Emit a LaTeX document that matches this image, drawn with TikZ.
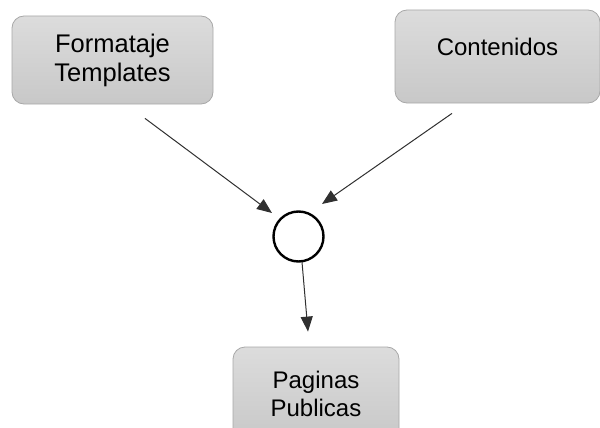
\documentclass[tikz,border=0pt]{standalone}
\usepackage{fontspec}
\setmainfont{Liberation Sans}
\usetikzlibrary{arrows.meta,calc}
\definecolor{boxtop}{HTML}{DCDCDC}
\definecolor{boxbot}{HTML}{C8C8C8}
\definecolor{boxline}{HTML}{A8A8A8}
\definecolor{arrline}{HTML}{303030}
\begin{document}
\begin{tikzpicture}[x=1pt,y=-1pt,
  box/.style={draw=boxline, line width=0.8pt, rounded corners=12pt,
    top color=boxtop, bottom color=boxbot, align=center,
    font=\fontsize{24}{28}\selectfont, inner sep=0pt},
  junction/.style={circle, draw=black, line width=2.4pt, fill=white,
    minimum size=50pt, inner sep=0pt},
  arr/.style={draw=arrline, line width=1pt,
    -{Triangle[length=15pt,width=12pt]}}]
\useasboundingbox (0,0) rectangle (600,428);
\node[box, minimum width=201pt, minimum height=88pt] (f) at (112.5,60)
  {\raisebox{-2pt}{\parbox{190pt}{\centering\fontsize{25.5}{29}\selectfont Formataje\\Templates}}};
\node[box, minimum width=205pt, minimum height=93pt, text depth=20pt] (k) at (497.5,56.5) {Contenidos};
\node[box, minimum width=166pt, minimum height=93pt] (p) at (316,393.5)
  {\raisebox{3pt}{\parbox{150pt}{\centering Paginas\\Publicas}}};
\node[junction] (c) at (298.5,236.5) {};
\coordinate (fs) at ($(f.south)+(32.5,14)$);
\coordinate (ks) at ($(k.south)+(-45.5,10)$);
\coordinate (ce) at ($(c.center)+(-26.5,-23.5)$);
\coordinate (ke) at ($(c.center)+(23.5,-32.5)$);
\coordinate (cs) at ($(c.center)+(3.5,25.5)$);
\coordinate (pe) at ($(p.north)+(-8,-15)$);
\draw[arr] (fs) -- (ce);
\draw[arr] (ks) -- (ke);
\draw[arr] (cs) -- (pe);
\end{tikzpicture}
\end{document}
